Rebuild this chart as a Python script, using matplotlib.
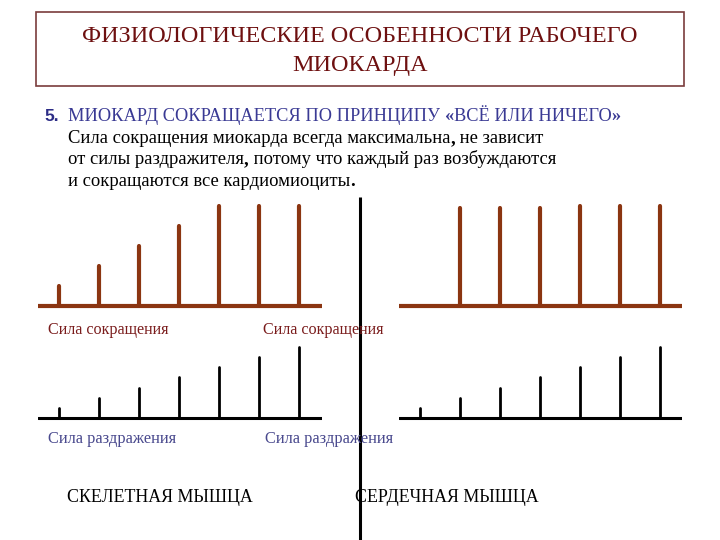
import matplotlib
matplotlib.use("Agg")
import matplotlib.pyplot as plt
from matplotlib.patches import Rectangle

# ---- data ----
slots = [1, 2, 3, 4, 5, 6, 7]
skeletal_contraction = [1, 2, 3, 4, 5, 5, 5]
cardiac_contraction = [0, 4.9, 4.9, 4.9, 5, 5, 5]
stimulus_strength = [1, 2, 3, 4, 5, 6, 7]

title_lines = ["ФИЗИОЛОГИЧЕСКИЕ ОСОБЕННОСТИ РАБОЧЕГО", "МИОКАРДА"]
heading_num = "5."
heading_parts = [("МИОКАРД СОКРАЩАЕТСЯ ПО ПРИНЦИПУ ", "normal"), ("«", "bold"),
                 ("ВСЁ ИЛИ НИЧЕГО", "normal"), ("»", "bold")]
body_lines = [
    [("Сила сокращения миокарда всегда максимальна", "normal"), (",", "bold"),
     (" не зависит", "normal")],
    [("от силы раздражителя", "normal"), (",", "bold"),
     (" потому что каждый раз возбуждаются", "normal")],
    [("и сокращаются все кардиомиоциты", "normal"), (".", "bold")],
]
label_contr = "Сила сокращения"
label_stim = "Сила раздражения"
muscle_labels = ["СКЕЛЕТНАЯ МЫШЦА", "СЕРДЕЧНАЯ МЫШЦА"]

W, H = 720, 540
BROWN = "#8B3511"
SERIF = ["Liberation Serif", "DejaVu Serif"]

fig = plt.figure(figsize=(W / 100, H / 100), dpi=100)
fig.patch.set_facecolor("white")
renderer = fig.canvas.get_renderer()

def px_axes(x0, x1, y_top, y_bot):
    return fig.add_axes([x0 / W, 1 - y_bot / H, (x1 - x0) / W, (y_bot - y_top) / H])

# overlay axes in pixel coordinates for text & decoration
ov = fig.add_axes([0, 0, 1, 1])
ov.set_xlim(0, W)
ov.set_ylim(H, 0)
ov.axis("off")

def segments(x, y, parts, size, color):
    for txt, weight in parts:
        t = ov.text(x, y, txt, ha="left", va="baseline", fontsize=size,
                    family=SERIF, color=color, fontweight=weight)
        bb = t.get_window_extent(renderer=renderer)
        x = ov.transData.inverted().transform((bb.x1, bb.y0))[0]

ov.add_patch(Rectangle((36, 12), 648, 74, fill=False, edgecolor="#7A3C3C", linewidth=1.2))
ov.text(360, 36, title_lines[0], ha="center", va="center", fontsize=17.4,
        family=SERIF, color="#6E1010")
ov.text(360, 65, title_lines[1], ha="center", va="center", fontsize=17.4,
        family=SERIF, color="#6E1010")

ov.text(44, 121, heading_num, ha="left", va="baseline", fontsize=12.5, fontweight="bold",
        family=["Liberation Sans", "DejaVu Sans"], color="#2C2C86")
segments(68, 121, heading_parts, 13.2, "#3A3A94")
for i, parts in enumerate(body_lines):
    segments(68, 143 + i * 21.5, parts, 13.4, "black")

for x in (48, 263):
    ov.text(x, 330, label_contr, ha="left", va="center", fontsize=11.6,
            family=SERIF, color="#7A1C1C")
for x in (48, 265):
    ov.text(x, 439, label_stim, ha="left", va="center", fontsize=11.8,
            family=SERIF, color="#4A4A8E")
ov.text(67, 497, muscle_labels[0], ha="left", va="center", fontsize=12.9,
        family=SERIF, color="black")
ov.text(355, 497, muscle_labels[1], ha="left", va="center", fontsize=12.9,
        family=SERIF, color="black")

ov.plot([360, 360], [197, 540], color="black", linewidth=2.2, solid_capstyle="butt")

def panel(x0, x1, y_top, y_bot, xlim, ylim, values, color, bar_lw, axis_lw):
    ax = px_axes(x0, x1, y_top, y_bot)
    ax.set_xlim(*xlim)
    ax.set_ylim(*ylim)
    ax.axis("off")
    ax.patch.set_alpha(0)
    ax.axhline(0, color=color, linewidth=axis_lw, solid_capstyle="round")
    xs = [s for s, v in zip(slots, values) if v > 0]
    vs = [v for v in values if v > 0]
    ax.vlines(xs, 0, vs, color=color, linewidth=bar_lw, capstyle="round")
    return ax

# top panels (contraction): 20 px per unit, baseline at 306
panel(38, 322, 196, 316, (0.475, 7.575), (-0.5, 5.5), skeletal_contraction, BROWN, 3.0, 3.0)
panel(399, 682, 196, 316, (0.475, 7.55), (-0.5, 5.5), cardiac_contraction, BROWN, 3.0, 3.0)

# bottom panels (stimulus): ~10.14 px per unit, baseline at 418
u = 71 / 7
panel(38, 322, 418 - 7.5 * u, 418 + 0.5 * u, (0.475, 7.575), (-0.5, 7.5),
      stimulus_strength, "black", 2.0, 2.2)
panel(399, 682, 418 - 7.5 * u, 418 + 0.5 * u, (0.475, 7.55), (-0.5, 7.5),
      stimulus_strength, "black", 2.0, 2.2)

fig.savefig("out.png", dpi=100, facecolor="white")
